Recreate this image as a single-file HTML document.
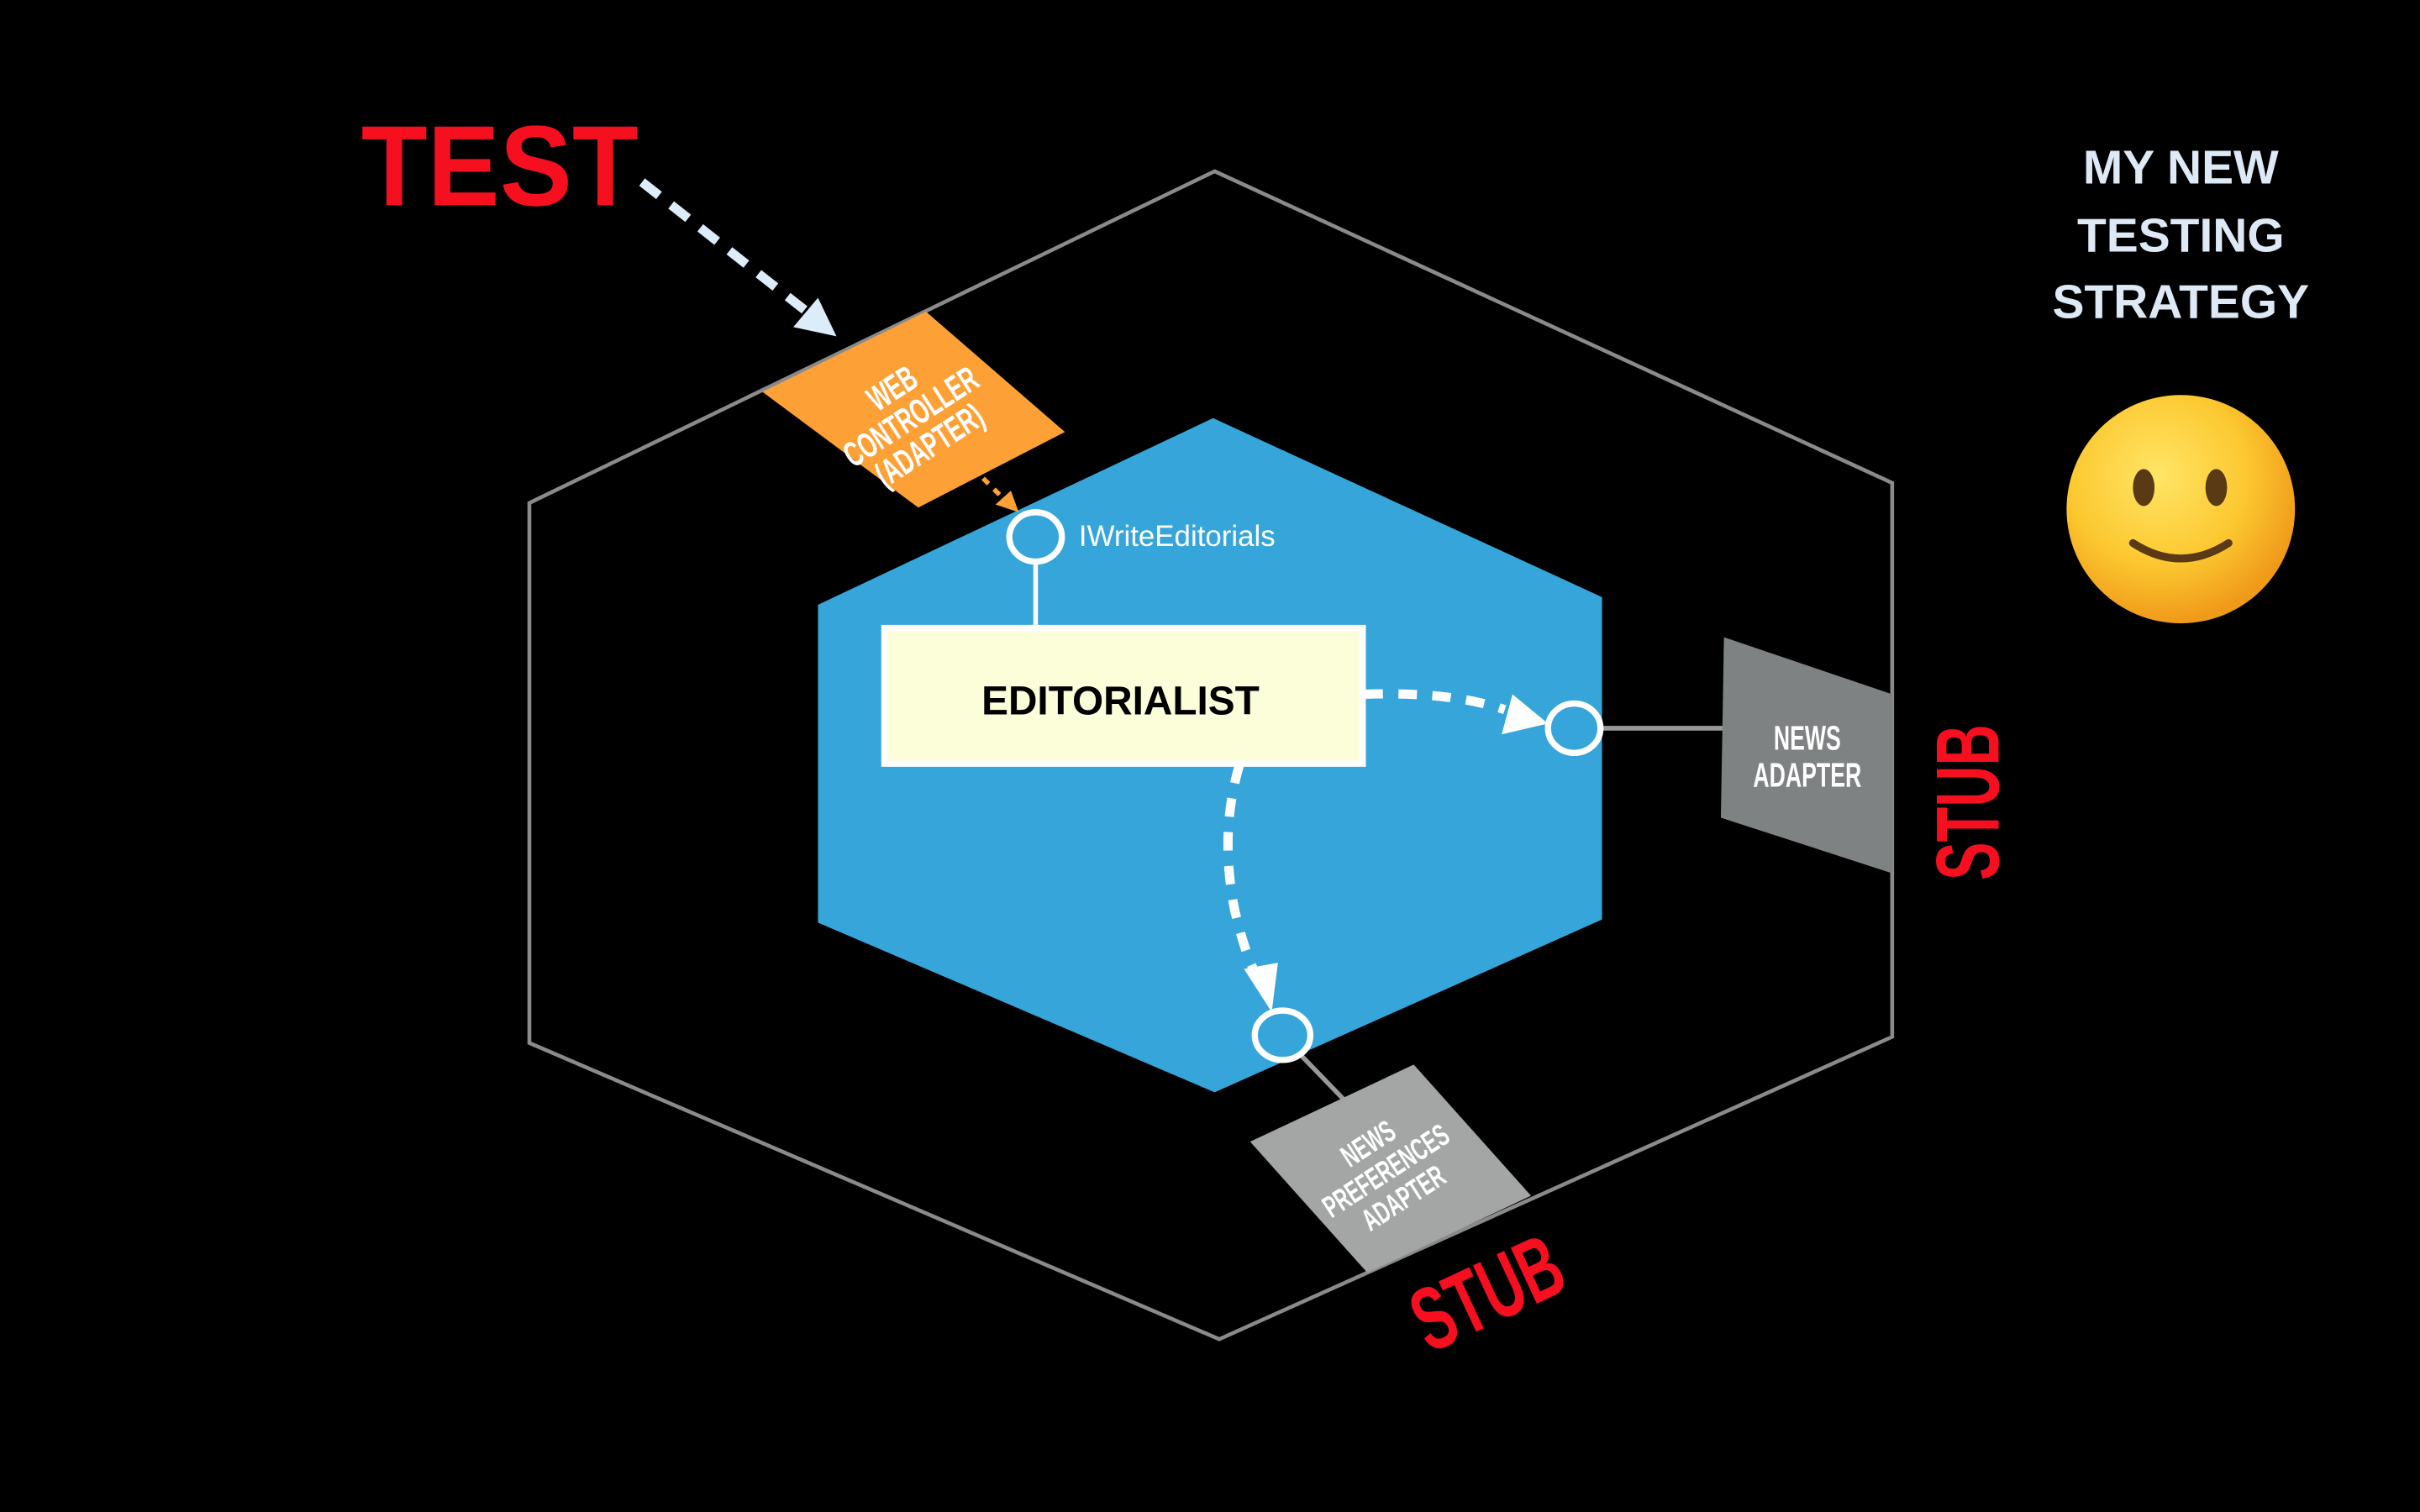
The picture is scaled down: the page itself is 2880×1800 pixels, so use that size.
<!DOCTYPE html>
<html><head><meta charset="utf-8"><style>
html,body{margin:0;padding:0;background:#000;width:2880px;height:1800px;overflow:hidden}
svg{display:block}
text{font-family:"Liberation Sans",sans-serif}
</style></head><body>
<svg width="2880" height="1800" viewBox="0 0 1568 980" xmlns="http://www.w3.org/2000/svg">
<defs>
<radialGradient id="sm" cx="40%" cy="35%" r="65%">
<stop offset="0" stop-color="#ffe566"/><stop offset="0.6" stop-color="#fcc830"/><stop offset="1" stop-color="#f09a1a"/>
</radialGradient>
</defs>
<rect width="1568" height="980" fill="#000"/>
<polygon points="787,111 1226,313 1226,672 790,868 343,676 343,326" fill="none" stroke="#8a8a8a" stroke-width="2.5"/>
<polygon points="786,271 1038,387 1038,596 787,708 530,598 530,392" fill="#35a5da"/>
<!-- web controller -->
<polygon points="494,254 600,202 690,280 595,329" fill="#fda137"/>
<g transform="translate(590,270) rotate(-33)" fill="#fff" font-weight="bold" font-size="23" text-anchor="middle">
<g transform="scale(0.62,1)">
<text x="0" y="-14">WEB</text><text x="0" y="8">CONTROLLER</text><text x="0" y="30">(ADAPTER)</text>
</g></g>
<line x1="637" y1="310" x2="651" y2="324" stroke="#fda137" stroke-width="3" stroke-dasharray="5,5"/>
<polygon points="660,332 645,327 655,318" fill="#fda137"/>
<!-- test arrow -->
<line x1="416" y1="118" x2="524" y2="203" stroke="#dcecf9" stroke-width="6" stroke-dasharray="14,10"/>
<polygon points="542,218 514,212 530,193" fill="#dcecf9"/>
<text x="234" y="133" font-size="74" font-weight="bold" fill="#f50f1f" transform="translate(234,0) scale(0.95,1) translate(-234,0)">TEST</text>
<!-- interface -->
<line x1="671" y1="365" x2="671" y2="406" stroke="#fff" stroke-width="3"/>
<ellipse cx="671" cy="348" rx="17" ry="16" fill="none" stroke="#fff" stroke-width="4"/>
<text x="699" y="354" font-size="19" fill="#fff">IWriteEditorials</text>
<!-- editorialist -->
<rect x="573" y="407" width="310" height="88" fill="#fbfed8" stroke="#fff" stroke-width="4"/>
<text x="726" y="463" font-size="26" font-weight="bold" fill="#000" text-anchor="middle">EDITORIALIST</text>
<!-- news adapter -->
<line x1="1038" y1="472" x2="1118" y2="472" stroke="#999" stroke-width="3"/>
<polygon points="1117,413 1226,450 1226,566 1115,530" fill="#7f8283"/>
<g fill="#fff" font-size="22" font-weight="bold" text-anchor="middle" transform="translate(1171,0) scale(0.66,1)">
<text x="0" y="486">NEWS</text><text x="0" y="510">ADAPTER</text></g>
<ellipse cx="1020" cy="472" rx="17" ry="16" fill="none" stroke="#fff" stroke-width="4"/>
<path d="M884,450 Q940,448 975,460" fill="none" stroke="#fff" stroke-width="6" stroke-dasharray="12,10"/>
<polygon points="1003,469 973,476 980,450" fill="#fff"/>
<!-- news prefs -->
<line x1="843" y1="684" x2="872" y2="714" stroke="#999" stroke-width="3"/>
<polygon points="810,740 916,690 992,775 886,825" fill="#a3a6a5"/>
<g transform="translate(900,762) rotate(-33)" fill="#fff" font-size="20" font-weight="bold" text-anchor="middle">
<g transform="scale(0.62,1)"><text y="-18">NEWS</text><text y="3">PREFERENCES</text><text y="24">ADAPTER</text></g></g>
<ellipse cx="831" cy="671" rx="18" ry="16" fill="none" stroke="#fff" stroke-width="4"/>
<path d="M803,496 Q790,540 800,590 Q806,615 812,628" fill="none" stroke="#fff" stroke-width="6" stroke-dasharray="12,10"/>
<polygon points="824,656 806,628 828,624" fill="#fff"/>
<!-- stubs -->
<g transform="translate(1295,520) rotate(-90)" fill="#f50f1f" font-size="58" font-weight="bold" text-anchor="middle"><g transform="scale(0.64,1)"><text x="0" y="0">STUB</text></g></g>
<g transform="translate(972,856) rotate(-25)" fill="#f50f1f" font-size="58" font-weight="bold" text-anchor="middle"><g transform="scale(0.64,1)"><text x="0" y="0">STUB</text></g></g>
<!-- title -->
<g fill="#dde9f5" font-size="31" font-weight="bold" text-anchor="middle">
<text x="1413" y="119">MY NEW</text><text x="1413" y="163">TESTING</text><text x="1413" y="206">STRATEGY</text></g>
<!-- smiley -->
<circle cx="1413" cy="330" r="74" fill="url(#sm)"/>
<ellipse cx="1389" cy="316" rx="7" ry="12" fill="#5a3a14"/>
<ellipse cx="1436" cy="316" rx="7" ry="12" fill="#5a3a14"/>
<path d="M1382,352 Q1413,372 1444,352" fill="none" stroke="#5a3a14" stroke-width="5" stroke-linecap="round"/>
</svg>
</body></html>
